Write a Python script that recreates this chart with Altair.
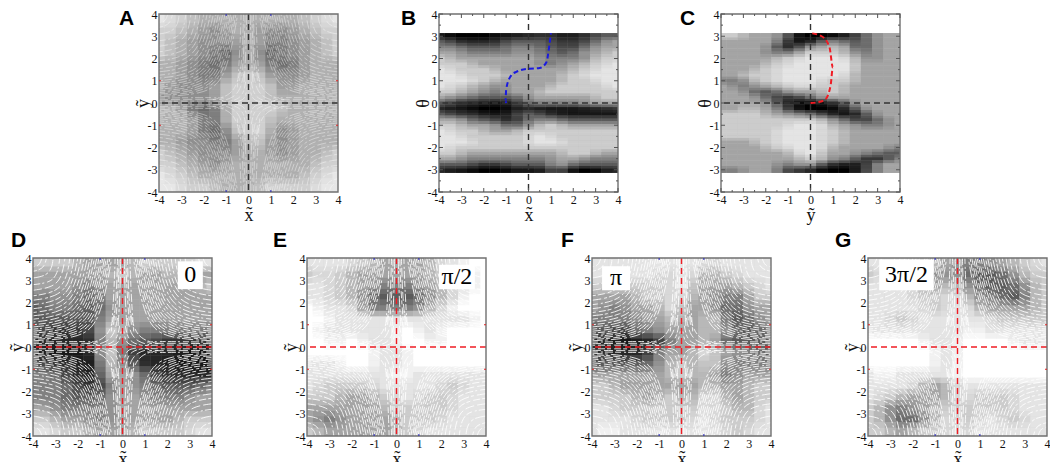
import numpy as np
import pandas as pd
import altair as alt

# darkness 0 (white) .. 9 (black), rows from top of the plot to the bottom
grid_a = [
    [1, 2, 2, 3, 3, 3, 3, 3, 3, 3, 3, 3, 3, 2, 2, 1],
    [2, 2, 3, 3, 4, 4, 3, 3, 3, 4, 4, 4, 3, 3, 2, 2],
    [2, 3, 3, 4, 4, 4, 4, 3, 3, 4, 5, 4, 4, 3, 3, 2],
    [2, 3, 3, 4, 4, 5, 5, 3, 3, 5, 5, 4, 4, 3, 3, 2],
    [3, 3, 4, 4, 5, 5, 4, 3, 3, 4, 5, 5, 4, 3, 3, 3],
    [3, 3, 4, 4, 5, 4, 3, 2, 2, 3, 4, 4, 4, 3, 3, 3],
    [3, 4, 4, 4, 4, 3, 2, 2, 2, 2, 3, 4, 3, 3, 3, 3],
    [4, 4, 4, 4, 4, 3, 2, 2, 2, 2, 3, 3, 3, 3, 3, 3],
    [3, 3, 4, 5, 5, 4, 2, 2, 2, 2, 2, 3, 3, 3, 3, 3],
    [3, 3, 3, 4, 5, 4, 2, 2, 2, 2, 3, 3, 3, 3, 3, 3],
    [3, 3, 3, 4, 5, 5, 3, 2, 2, 2, 4, 4, 3, 3, 3, 3],
    [3, 3, 4, 4, 4, 5, 4, 3, 2, 3, 4, 4, 3, 3, 3, 3],
    [2, 3, 3, 4, 4, 4, 4, 3, 3, 3, 4, 4, 3, 3, 3, 2],
    [2, 2, 3, 3, 4, 4, 3, 3, 3, 3, 3, 3, 3, 3, 2, 2],
    [1, 2, 2, 3, 3, 3, 3, 3, 3, 3, 3, 3, 3, 2, 2, 1],
    [1, 1, 2, 2, 2, 3, 3, 3, 3, 2, 2, 2, 2, 2, 1, 1],
]
grid_b = [
    [8, 9, 9, 9, 9, 8, 8, 7, 7, 6, 7, 8, 7, 6, 5, 5],
    [5, 6, 7, 7, 7, 6, 5, 5, 5, 5, 6, 6, 6, 5, 4, 3],
    [4, 4, 5, 5, 5, 5, 4, 4, 4, 5, 5, 6, 5, 4, 3, 3],
    [3, 3, 4, 4, 4, 4, 4, 3, 4, 4, 5, 5, 4, 3, 3, 2],
    [2, 3, 3, 3, 3, 3, 3, 3, 3, 4, 4, 4, 4, 3, 2, 2],
    [2, 2, 2, 3, 3, 3, 3, 3, 3, 4, 4, 3, 3, 2, 2, 1],
    [1, 2, 2, 2, 2, 3, 3, 3, 3, 3, 3, 3, 2, 2, 1, 1],
    [1, 1, 2, 2, 2, 2, 3, 3, 3, 3, 3, 2, 2, 1, 1, 1],
    [1, 1, 1, 2, 2, 3, 3, 3, 3, 3, 3, 2, 2, 2, 1, 1],
    [1, 2, 2, 3, 3, 4, 3, 3, 3, 3, 2, 2, 2, 2, 2, 1],
    [2, 2, 3, 3, 4, 4, 3, 3, 3, 2, 2, 2, 2, 2, 2, 2],
    [3, 4, 4, 5, 5, 5, 5, 4, 3, 3, 3, 3, 3, 3, 2, 2],
    [5, 6, 7, 7, 8, 8, 7, 5, 4, 4, 4, 4, 4, 3, 3, 3],
    [7, 8, 8, 9, 9, 9, 8, 7, 7, 8, 8, 8, 8, 7, 7, 6],
    [5, 6, 6, 7, 8, 8, 7, 5, 5, 6, 7, 8, 8, 8, 8, 8],
    [3, 3, 4, 5, 5, 6, 7, 5, 4, 4, 4, 5, 5, 5, 5, 5],
    [2, 2, 3, 3, 3, 4, 5, 4, 3, 2, 2, 3, 3, 3, 3, 3],
    [1, 2, 2, 2, 3, 3, 3, 2, 2, 2, 2, 2, 2, 2, 2, 2],
    [1, 1, 2, 2, 2, 2, 2, 2, 1, 1, 2, 2, 2, 2, 2, 2],
    [1, 1, 1, 2, 2, 2, 2, 2, 1, 1, 1, 2, 2, 2, 2, 2],
    [1, 2, 2, 2, 2, 2, 2, 2, 2, 2, 2, 2, 2, 2, 2, 2],
    [2, 2, 3, 3, 3, 3, 3, 3, 3, 3, 3, 2, 2, 2, 3, 3],
    [3, 3, 4, 4, 4, 4, 4, 4, 4, 4, 3, 3, 3, 4, 4, 4],
    [5, 5, 5, 6, 6, 6, 5, 5, 5, 5, 3, 4, 5, 5, 5, 5],
    [7, 8, 8, 9, 9, 9, 8, 8, 8, 7, 5, 7, 9, 9, 8, 7],
]
grid_c = [
    [2, 2, 3, 3, 3, 4, 7, 9, 9, 9, 8, 7, 5, 4, 3, 3],
    [3, 3, 3, 3, 3, 5, 8, 8, 6, 4, 4, 5, 5, 4, 3, 3],
    [3, 3, 3, 3, 4, 6, 7, 4, 3, 3, 2, 4, 5, 4, 3, 3],
    [3, 3, 3, 3, 4, 4, 4, 2, 2, 2, 2, 3, 4, 4, 3, 3],
    [3, 3, 3, 3, 3, 2, 2, 1, 1, 1, 1, 2, 3, 4, 3, 3],
    [3, 3, 3, 3, 2, 2, 1, 1, 1, 1, 1, 1, 3, 3, 3, 3],
    [3, 3, 3, 2, 2, 1, 1, 1, 1, 1, 1, 1, 3, 3, 3, 3],
    [3, 3, 2, 2, 2, 1, 1, 1, 1, 1, 1, 2, 3, 3, 3, 3],
    [4, 4, 3, 2, 2, 1, 1, 1, 1, 2, 2, 2, 3, 3, 3, 3],
    [3, 4, 4, 3, 3, 2, 2, 1, 2, 2, 2, 3, 3, 3, 3, 3],
    [3, 3, 4, 5, 5, 4, 3, 3, 3, 2, 2, 3, 3, 3, 3, 3],
    [3, 3, 3, 4, 5, 6, 6, 5, 4, 3, 3, 3, 3, 3, 3, 3],
    [3, 3, 3, 3, 4, 6, 8, 9, 9, 7, 6, 4, 3, 3, 3, 3],
    [3, 3, 2, 3, 3, 5, 7, 9, 9, 9, 8, 6, 4, 3, 3, 3],
    [2, 2, 2, 2, 3, 3, 4, 4, 5, 6, 8, 8, 6, 4, 3, 3],
    [2, 2, 2, 2, 2, 2, 2, 2, 2, 3, 4, 5, 6, 5, 4, 3],
    [2, 2, 2, 2, 2, 2, 1, 1, 1, 2, 3, 3, 4, 4, 4, 3],
    [2, 2, 2, 2, 2, 1, 1, 1, 1, 2, 2, 3, 3, 3, 3, 3],
    [2, 2, 2, 2, 2, 1, 1, 1, 1, 2, 2, 3, 3, 3, 3, 3],
    [3, 3, 3, 2, 2, 1, 1, 1, 1, 2, 2, 3, 3, 3, 3, 3],
    [3, 3, 3, 3, 2, 2, 1, 1, 1, 2, 3, 3, 3, 3, 3, 4],
    [3, 3, 3, 3, 3, 3, 2, 1, 1, 3, 3, 3, 4, 4, 5, 5],
    [3, 3, 3, 3, 3, 3, 3, 2, 2, 3, 4, 4, 6, 6, 6, 4],
    [3, 3, 3, 3, 3, 4, 4, 3, 4, 6, 7, 8, 7, 5, 3, 3],
    [4, 4, 3, 3, 3, 5, 6, 6, 8, 9, 9, 9, 6, 5, 3, 3],
]
grid_d = [
    [2, 2, 2, 2, 3, 3, 3, 3, 3, 2, 2, 2, 2, 2, 1, 1],
    [3, 3, 3, 3, 3, 3, 3, 2, 2, 3, 3, 3, 2, 3, 3, 3],
    [3, 3, 3, 3, 4, 4, 3, 3, 3, 3, 3, 3, 3, 3, 3, 2],
    [4, 4, 3, 4, 4, 5, 3, 3, 3, 3, 3, 3, 3, 3, 3, 3],
    [5, 4, 4, 4, 5, 5, 4, 3, 3, 3, 3, 3, 3, 3, 3, 3],
    [5, 5, 5, 5, 5, 5, 3, 3, 3, 3, 3, 3, 3, 3, 3, 3],
    [5, 6, 6, 6, 6, 5, 2, 2, 3, 4, 4, 4, 4, 4, 4, 4],
    [7, 7, 7, 7, 7, 6, 2, 3, 4, 5, 5, 6, 6, 6, 6, 6],
    [7, 8, 8, 8, 8, 6, 1, 3, 5, 7, 7, 7, 7, 8, 8, 8],
    [5, 6, 6, 7, 8, 7, 2, 3, 4, 6, 7, 7, 8, 8, 8, 8],
    [4, 4, 5, 6, 7, 7, 3, 3, 3, 4, 5, 6, 6, 7, 7, 7],
    [4, 4, 4, 5, 6, 6, 5, 3, 3, 4, 4, 5, 5, 5, 5, 4],
    [4, 4, 4, 5, 5, 5, 4, 3, 3, 3, 4, 4, 4, 4, 3, 3],
    [3, 3, 4, 4, 4, 4, 4, 3, 3, 3, 3, 3, 3, 3, 3, 3],
    [2, 2, 3, 3, 3, 4, 4, 3, 3, 3, 3, 3, 3, 2, 2, 2],
    [1, 1, 2, 2, 2, 3, 3, 3, 3, 2, 2, 2, 2, 2, 1, 1],
]
grid_e = [
    [1, 1, 1, 1, 2, 2, 3, 3, 3, 3, 3, 2, 1, 1, 0, 0],
    [2, 1, 2, 2, 3, 3, 3, 3, 3, 3, 3, 2, 2, 1, 1, 0],
    [1, 1, 2, 2, 3, 3, 4, 4, 4, 4, 3, 3, 2, 1, 1, 0],
    [1, 1, 2, 2, 3, 4, 5, 5, 5, 5, 4, 3, 2, 1, 0, 0],
    [0, 1, 1, 1, 2, 4, 4, 4, 4, 4, 3, 2, 1, 0, 0, 0],
    [0, 0, 1, 1, 1, 1, 1, 1, 1, 1, 1, 1, 1, 1, 1, 0],
    [0, 1, 1, 1, 1, 1, 1, 1, 0, 0, 1, 1, 0, 0, 0, 0],
    [0, 0, 1, 0, 0, 1, 1, 1, 0, 0, 0, 1, 0, 0, 0, 0],
    [0, 0, 0, 0, 0, 0, 1, 1, 1, 0, 0, 0, 0, 0, 0, 0],
    [1, 1, 1, 0, 0, 0, 1, 1, 1, 0, 0, 0, 0, 0, 0, 0],
    [1, 1, 1, 1, 1, 1, 1, 1, 0, 1, 1, 1, 1, 1, 1, 1],
    [1, 2, 2, 2, 2, 2, 1, 1, 1, 1, 1, 1, 2, 2, 1, 1],
    [2, 2, 2, 3, 3, 3, 2, 2, 1, 1, 2, 2, 2, 1, 1, 1],
    [3, 3, 3, 3, 3, 3, 3, 2, 2, 2, 2, 2, 2, 1, 1, 1],
    [3, 4, 4, 3, 3, 3, 3, 3, 2, 2, 2, 2, 1, 1, 1, 1],
    [2, 3, 3, 3, 3, 3, 3, 3, 2, 2, 1, 1, 1, 1, 1, 1],
]
grid_f = [
    [1, 1, 1, 1, 1, 1, 1, 1, 1, 1, 2, 1, 1, 1, 1, 1],
    [1, 1, 1, 1, 1, 1, 2, 1, 1, 2, 3, 2, 2, 1, 1, 1],
    [2, 2, 2, 2, 2, 2, 2, 1, 1, 3, 3, 3, 3, 2, 2, 1],
    [3, 3, 3, 3, 2, 2, 2, 1, 2, 3, 3, 4, 4, 4, 2, 2],
    [3, 4, 4, 3, 3, 3, 2, 1, 3, 3, 3, 4, 5, 4, 3, 3],
    [4, 4, 4, 4, 3, 3, 3, 2, 3, 3, 2, 3, 5, 5, 4, 3],
    [5, 5, 6, 5, 4, 4, 3, 3, 3, 3, 2, 3, 4, 5, 5, 4],
    [7, 7, 8, 8, 7, 7, 5, 3, 3, 3, 2, 4, 5, 5, 5, 5],
    [6, 7, 7, 7, 7, 5, 3, 3, 3, 2, 1, 3, 3, 4, 4, 5],
    [5, 5, 5, 5, 5, 4, 3, 2, 2, 3, 1, 3, 4, 4, 4, 4],
    [3, 3, 3, 3, 3, 3, 3, 2, 2, 3, 2, 4, 4, 3, 3, 3],
    [2, 2, 3, 3, 3, 3, 3, 3, 3, 3, 2, 3, 3, 3, 2, 2],
    [2, 2, 2, 2, 3, 3, 2, 2, 3, 2, 1, 2, 3, 3, 2, 2],
    [1, 1, 2, 2, 2, 2, 2, 2, 2, 2, 1, 2, 2, 3, 2, 1],
    [1, 1, 1, 1, 2, 2, 2, 2, 2, 1, 1, 2, 2, 2, 2, 1],
    [1, 0, 1, 1, 1, 1, 1, 1, 1, 1, 1, 1, 2, 2, 1, 1],
]
grid_g = [
    [1, 1, 1, 1, 2, 2, 3, 3, 4, 4, 4, 3, 3, 2, 2, 1],
    [2, 1, 1, 1, 2, 3, 4, 3, 4, 5, 5, 5, 4, 3, 2, 2],
    [1, 1, 1, 1, 2, 3, 3, 2, 3, 4, 5, 5, 5, 4, 3, 2],
    [1, 1, 1, 1, 2, 2, 2, 1, 2, 3, 4, 4, 5, 5, 3, 2],
    [1, 1, 1, 1, 1, 2, 2, 1, 1, 2, 3, 3, 3, 3, 3, 2],
    [1, 1, 2, 2, 1, 1, 1, 1, 1, 1, 1, 2, 2, 2, 2, 2],
    [1, 1, 1, 1, 1, 1, 1, 1, 1, 0, 1, 1, 1, 1, 1, 1],
    [0, 0, 0, 0, 0, 1, 1, 1, 0, 0, 0, 0, 0, 1, 1, 1],
    [0, 0, 0, 0, 0, 0, 1, 1, 0, 0, 0, 0, 0, 0, 0, 0],
    [0, 0, 0, 0, 0, 0, 1, 1, 0, 0, 0, 0, 0, 0, 0, 0],
    [1, 0, 1, 1, 1, 1, 1, 1, 0, 0, 0, 0, 0, 0, 0, 0],
    [1, 1, 1, 1, 2, 3, 3, 2, 1, 1, 1, 1, 1, 1, 1, 1],
    [1, 2, 2, 3, 3, 3, 3, 2, 1, 2, 2, 2, 2, 1, 1, 1],
    [2, 3, 4, 4, 3, 3, 2, 2, 2, 2, 2, 2, 2, 1, 1, 1],
    [2, 3, 4, 5, 4, 3, 2, 1, 2, 2, 1, 1, 2, 2, 1, 1],
    [2, 2, 3, 3, 2, 2, 2, 1, 2, 1, 1, 1, 1, 1, 1, 1],
]

flow_curves = [
    [(4, 3.6), (3.75, 3.65), (3.65, 3.85), (3.6, 4)],
    [(4, 3.4), (3.6, 3.5), (3.45, 3.75), (3.4, 4)],
    [(4, 3.1), (3.4, 3.2), (3.15, 3.55), (3.1, 4)],
    [(4, 2.8), (3.2, 2.9), (2.9, 3.3), (2.8, 4)],
    [(4, 2.55), (3.1, 2.68), (2.7, 3.15), (2.57, 4)],
    [(4, 2.3), (3, 2.45), (2.5, 3), (2.35, 4)],
    [(4, 2.1), (2.95, 2.25), (2.35, 2.85), (2.17, 4)],
    [(4, 1.9), (2.9, 2.05), (2.25, 2.7), (2.0, 4)],
    [(4, 1.72), (2.85, 1.87), (2.15, 2.55), (1.85, 4)],
    [(4, 1.55), (2.8, 1.7), (2.05, 2.4), (1.7, 4)],
    [(4, 1.4), (2.75, 1.55), (1.95, 2.25), (1.57, 4)],
    [(4, 1.25), (2.7, 1.4), (1.85, 2.1), (1.45, 4)],
    [(4, 1.12), (2.65, 1.27), (1.77, 1.97), (1.35, 4)],
    [(4, 1.0), (2.6, 1.15), (1.7, 1.85), (1.25, 4)],
    [(4, 0.9), (2.55, 1.05), (1.62, 1.75), (1.15, 4)],
    [(4, 0.8), (2.5, 0.95), (1.55, 1.65), (1.05, 4)],
    [(4, 0.71), (2.45, 0.86), (1.47, 1.55), (0.96, 4)],
    [(4, 0.62), (2.4, 0.77), (1.4, 1.45), (0.88, 4)],
    [(4, 0.54), (2.35, 0.68), (1.32, 1.35), (0.8, 4)],
    [(4, 0.47), (2.3, 0.6), (1.25, 1.25), (0.72, 4)],
    [(4, 0.4), (2.25, 0.52), (1.17, 1.15), (0.64, 4)],
    [(4, 0.34), (2.2, 0.45), (1.1, 1.05), (0.56, 4)],
    [(4, 0.28), (2.1, 0.38), (1.02, 0.95), (0.48, 4)],
    [(1.6, 0.15), (0.9, 0.3), (0.5, 0.8), (0.35, 1.6)],
    [(1.2, 0.1), (0.7, 0.22), (0.35, 0.6), (0.22, 1.3)],
    [(0.9, 0.07), (0.5, 0.15), (0.22, 0.42), (0.12, 1.0)],
    [(0.6, 0.05), (0.3, 0.1), (0.13, 0.28), (0.06, 0.7)],
    [(0.5, 0.7), (0.42, 1.8), (0.36, 3), (0.33, 4)],
    [(0.4, 1.0), (0.3, 2), (0.25, 3), (0.22, 4)],
    [(0.3, 1.2), (0.22, 2.2), (0.17, 3.2), (0.15, 4)],
    [(0.2, 0.9), (0.13, 2), (0.1, 3), (0.08, 4)],
    [(4, 0.22), (2.5, 0.24), (1.6, 0.25), (1.1, 0.22)],
    [(4, 0.15), (3, 0.16), (2, 0.17), (1.2, 0.16)],
    [(4, 0.08), (3, 0.08), (2, 0.09), (1, 0.07)],
]
flow_dashes = [[9, 3], [4, 2, 7, 3], [11, 2, 3, 3], [6, 3, 2, 2, 8, 2]]

blue_x = [-1, -1.03, -1, -0.84, -0.57, 0, 0.5, 0.8, 0.92, 1]
blue_t = [0, 0.1, 0.57, 1.13, 1.39, 1.54, 1.57, 1.83, 2.5, 3.14]
red_y = [0, 0.3, 0.65, 0.9, 1, 0.85, 0.5, 0]
red_t = [0, 0.03, 0.15, 0.8, 1.6, 2.5, 3.0, 3.14]

x_edges = np.arange(-4, 4.01, 0.5)
y_edges = np.arange(4, -4.01, -0.5)
theta_edges = np.linspace(3.14, -3.14, 26)
tick_values = [-4, -3, -2, -1, 0, 1, 2, 3, 4]
half_ticks = [-3.5, -2.5, -1.5, -0.5, 0.5, 1.5, 2.5, 3.5]

W = 179
H = 178
x_scale = alt.Scale(domain=[-4, 4], nice=False, zero=False)
y_scale = alt.Scale(domain=[-4, 4], nice=False, zero=False)
gray_scale = alt.Scale(domain=[0, 2, 4, 6, 9], range=["#ffffff", "#cccccc", "#808080", "#383838", "#000000"])


def grid_frame(rows, row_edges, sx, sy, gain):
    # one copy of the grid moved by a quarter cell, edge cells keep the frame edge
    out = []
    nr = len(rows)
    nc = len(rows[0])
    dy = abs(row_edges[1] - row_edges[0]) / 4
    for i, row in enumerate(rows):
        for j, v in enumerate(row):
            x0 = x_edges[j] + sx * 0.25 if j > 0 else x_edges[0]
            x1 = x_edges[j + 1] + sx * 0.25 if j < nc - 1 else x_edges[-1]
            y0 = row_edges[i] + sy * dy if i > 0 else row_edges[0]
            y1 = row_edges[i + 1] + sy * dy if i < nr - 1 else row_edges[-1]
            out.append({"x": x0, "x2": x1, "y": y0, "y2": y1, "v": v * gain})
    return pd.DataFrame(out)


def flow_frame(part):
    out = []
    n = 0
    for sx in [-1, 1]:
        for sy in [-1, 1]:
            for c, curve in enumerate(flow_curves):
                n += 1
                if c % len(flow_dashes) != part:
                    continue
                # every other line runs the other way so the dash gaps don't line up
                pts = curve if c % 3 else curve[::-1]
                for k, (px, py) in enumerate(pts):
                    out.append({"id": n, "k": k, "x": sx * px, "y": sy * py})
    return pd.DataFrame(out)


flow_parts = [flow_frame(i) for i in range(len(flow_dashes))]


def spacer(w):
    return alt.Chart(pd.DataFrame({"z": [0]})).mark_point(opacity=0).encode(
        x=alt.value(0), y=alt.value(0)).properties(width=w, height=H)


def panel(letter, rows, row_edges, xtitle, ytitle, letter_x, letter_y, cross="#333333", flow=True,
          flow_opacity=0.85, note=None, curve=None, gain=1.0):
    x_axis = alt.Axis(values=tick_values, labelExpr="''+datum.value", labelFlush=False,
                      labelOverlap=False, titlePadding=1, labelPadding=2)
    y_axis = alt.Axis(values=tick_values, labelExpr="''+datum.value", labelFlush=False,
                      labelOverlap=False, titlePadding=-5, labelPadding=2)

    def X(field):
        return alt.X(field, scale=x_scale, title=xtitle, axis=x_axis)

    def Y(field):
        return alt.Y(field, scale=y_scale, title=ytitle, axis=y_axis)

    layers = []
    passes = [(-1, 1, 1.0), (1, -1, 0.5), (1, 1, 0.33), (-1, -1, 0.25)]
    for sx, sy, op in passes:
        layers.append(alt.Chart(grid_frame(rows, row_edges, sx, sy, gain)).mark_rect(opacity=op, strokeWidth=0).encode(
            x=X("x:Q"), x2="x2:Q", y=Y("y:Q"), y2="y2:Q",
            color=alt.Color("v:Q", scale=gray_scale, legend=None),
        ))
    if flow:
        for flow_df, dash in zip(flow_parts, flow_dashes):
            layers.append(alt.Chart(flow_df).mark_line(color="white", strokeWidth=1.0, strokeDash=dash,
                                                       interpolate="basis", opacity=flow_opacity, clip=True).encode(
                x=X("x:Q"), y=Y("y:Q"), detail="id:N", order="k:Q",
            ))
    if note is not None:
        nd = pd.DataFrame([note])
        layers.append(alt.Chart(nd).mark_rect(color="white").encode(
            x=X("x0:Q"), x2="x1:Q", y=Y("y0:Q"), y2="y1:Q"))
        layers.append(alt.Chart(nd).mark_text(font="Liberation Serif", fontSize=24, color="black").encode(
            x=X("xc:Q"), y=Y("yc:Q"), text="t:N"))
    zero = pd.DataFrame({"z": [0]})
    layers.append(alt.Chart(zero).mark_rule(color=cross, strokeWidth=1.4, strokeDash=[6, 4]).encode(x=X("z:Q")))
    layers.append(alt.Chart(zero).mark_rule(color=cross, strokeWidth=1.4, strokeDash=[6, 4]).encode(y=Y("z:Q")))
    if curve is not None:
        cd = pd.DataFrame({"x": curve[0], "y": curve[1], "k": range(len(curve[0]))})
        layers.append(alt.Chart(cd).mark_line(color=curve[2], strokeWidth=2, strokeDash=[5, 3],
                                              interpolate="monotone").encode(
            x=X("x:Q"), y=Y("y:Q"), order="k:Q"))
    layers.append(alt.Chart(zero).mark_rect(filled=False, stroke="#707070", strokeWidth=1.4).encode(
        x=alt.value(0), x2=alt.value(W), y=alt.value(0), y2=alt.value(H)))
    if flow:
        # the streak panels only carry small coloured marks at +-1 on the frame
        v_ticks = [(pd.DataFrame({"v": [-1, 1]}), "#2222bb", 2)]
        h_ticks = [(pd.DataFrame({"v": [-1, 1]}), "#dd2222", 2)]
    else:
        v_ticks = [(pd.DataFrame({"v": tick_values}), "#555555", 4), (pd.DataFrame({"v": half_ticks}), "#555555", 2)]
        h_ticks = v_ticks
    for d, col, size in v_ticks:
        base = alt.Chart(d).mark_rule(color=col, strokeWidth=1)
        layers.append(base.encode(x=X("v:Q"), y=alt.value(0), y2=alt.value(size)))
        layers.append(base.encode(x=X("v:Q"), y=alt.value(H), y2=alt.value(H - size)))
    for d, col, size in h_ticks:
        base = alt.Chart(d).mark_rule(color=col, strokeWidth=1)
        layers.append(base.encode(y=Y("v:Q"), x=alt.value(0), x2=alt.value(size)))
        layers.append(base.encode(y=Y("v:Q"), x=alt.value(W), x2=alt.value(W - size)))
    layers.append(alt.Chart(pd.DataFrame({"t": [letter]})).mark_text(
        font="Liberation Sans", fontWeight="bold", fontSize=21, align="left", color="black").encode(
        x=alt.value(letter_x), y=alt.value(letter_y), text="t:N"))
    return alt.layer(*layers).properties(width=W, height=H)


def note(t, x0, x1, y0, y1):
    return {"t": t, "x0": x0, "x1": x1, "y0": y0, "y1": y1, "xc": (x0 + x1) / 2, "yc": (y0 + y1) / 2}


X_T = "x\u0303"
Y_T = "y\u0303"
TH = "\u03b8"
RED = "#f01c24"

pa = panel("A", grid_a, y_edges, X_T, Y_T, -40, 5, flow_opacity=0.4, gain=0.9)
pb = panel("B", grid_b, theta_edges, X_T, TH, -38, 5, flow=False, curve=(blue_x, blue_t, "#1a1ae0"))
pc = panel("C", grid_c, theta_edges, Y_T, TH, -41, 5, flow=False, curve=(red_y, red_t, RED))
pd_ = panel("D", grid_d, y_edges, X_T, Y_T, -22, -17, cross=RED, note=note("0", 2.47, 3.59, 2.6, 3.85))
pe = panel("E", grid_e, y_edges, X_T, Y_T, -34, -17, cross=RED, note=note("\u03c0/2", 1.9, 3.5, 2.6, 3.7))
pf = panel("F", grid_f, y_edges, X_T, Y_T, -31, -17, cross=RED, note=note("\u03c0", -3.55, -2.3, 2.55, 3.63))
pg = panel("G", grid_g, y_edges, X_T, Y_T, -33, -17, cross=RED, note=note("3\u03c0/2", -3.5, -1.06, 2.55, 3.93))

top = alt.hconcat(spacer(148), pa, spacer(101), pb, spacer(103), pc, spacing=0, bounds="flush")
bottom = alt.hconcat(spacer(22), pd_, spacer(95), pe, spacer(106), pf, spacer(97), pg, spacing=0, bounds="flush")

chart = alt.vconcat(top, bottom, spacing=6).properties(padding=0).configure_view(
    stroke=None
).configure_axis(
    grid=False,
    domain=False,
    ticks=False,
    labelFont="Liberation Serif",
    labelFontSize=12,
    labelColor="#111111",
    titleFont="Liberation Serif",
    titleFontSize=18,
    titleFontWeight="normal",
    titleColor="#111111",
)

chart.save("out.html", embed_options={"renderer": "svg", "actions": False})
